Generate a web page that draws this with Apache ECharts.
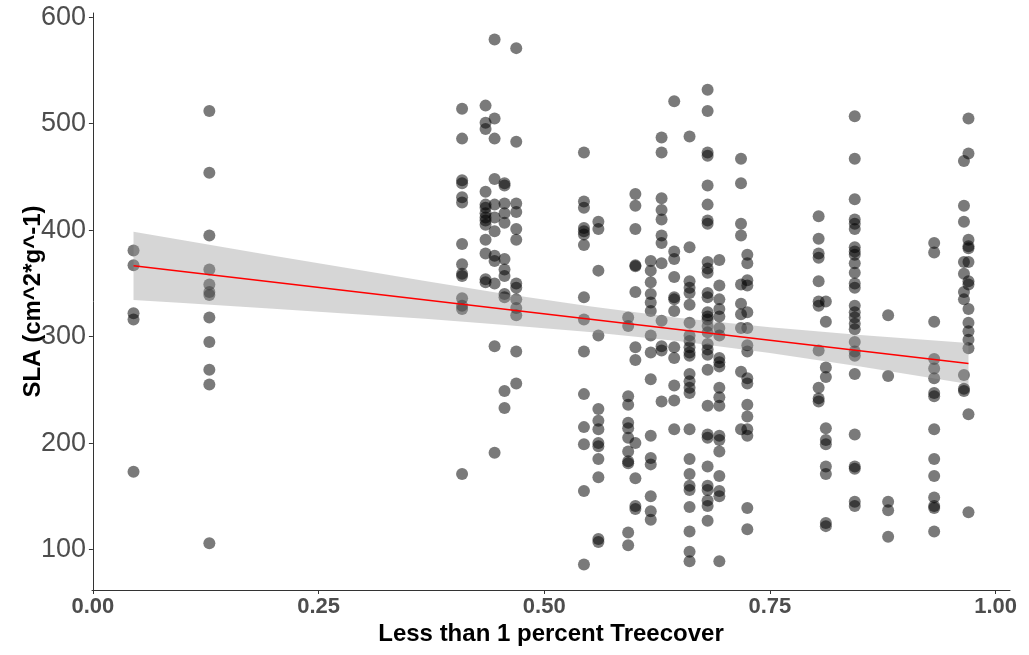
<!DOCTYPE html>
<html>
<head>
    <meta charset="utf-8">
    <title>SLA vs treecover</title>
    <script src="https://cdn.jsdelivr.net/npm/echarts@6/dist/echarts.min.js"></script>
</head>
<body style="margin:0">
<div id="main" style="width: 1029px;height:655px;"></div>
<script type="text/javascript">
    // x position of each site (share of area with < 1% tree cover)
    var siteX = [0.045, 0.129, 0.409, 0.435, 0.445, 0.456, 0.469, 0.544, 0.560, 0.593, 0.601, 0.618, 0.630,
        0.644, 0.661, 0.681, 0.694, 0.718, 0.725, 0.804, 0.812, 0.844, 0.881, 0.932, 0.965, 0.970];
    // SLA values measured at each site, same order as siteX
    var siteSLA = [
        [381, 367, 322, 316, 173],
        [512, 454, 395, 363, 349, 342, 339, 318, 295, 269, 255, 106],
        [514, 486, 447, 444, 431, 426, 387, 368, 359, 357, 336, 329, 326, 171],
        [517, 501, 495, 436, 424, 421, 416, 412, 409, 405, 391, 378, 354, 351],
        [579, 505, 486, 448, 424, 412, 399, 376, 371, 350, 291, 191],
        [444, 442, 425, 416, 407, 373, 363, 357, 340, 337, 249, 233],
        [571, 483, 425, 417, 401, 391, 350, 346, 335, 327, 320, 286, 256],
        [473, 427, 421, 402, 399, 396, 386, 337, 316, 286, 246, 215, 199, 155, 86],
        [408, 401, 362, 301, 232, 221, 213, 200, 197, 185, 168, 110, 107],
        [318, 310, 244, 236, 219, 214, 205, 192, 183, 181, 116, 104],
        [434, 423, 401, 367, 366, 342, 290, 278, 200, 167, 141, 138],
        [371, 362, 351, 340, 332, 324, 301, 285, 260, 207, 186, 180, 150, 136, 128],
        [487, 473, 430, 419, 410, 395, 388, 369, 315, 291, 287, 239],
        [521, 380, 373, 356, 337, 335, 324, 290, 280, 254, 240, 213],
        [488, 384, 352, 346, 341, 330, 313, 301, 296, 290, 285, 282, 265, 258, 252, 247, 213, 185, 171, 160, 156, 140, 117, 98, 89],
        [532, 512, 473, 470, 442, 424, 409, 406, 370, 364, 360, 341, 337, 323, 319, 316, 310, 304, 293, 288, 283, 269, 235, 208, 205, 178, 160, 156, 146, 141, 127],
        [372, 348, 335, 326, 319, 308, 301, 280, 276, 272, 252, 243, 235, 207, 203, 192, 169, 155, 150, 89],
        [467, 444, 406, 395, 349, 331, 321, 308, 267, 213],
        [377, 369, 353, 348, 323, 308, 292, 286, 261, 256, 236, 225, 213, 207, 139, 119],
        [413, 392, 378, 374, 352, 333, 329, 287, 252, 242, 239],
        [333, 314, 271, 262, 214, 203, 199, 178, 171, 125, 122],
        [507, 467, 429, 410, 406, 401, 384, 380, 377, 369, 360, 350, 346, 329, 323, 318, 312, 307, 295, 286, 282, 265, 208, 178, 176, 145, 141],
        [320, 263, 145, 137, 112],
        [388, 379, 314, 279, 270, 261, 247, 244, 213, 185, 169, 149, 141, 139, 117],
        [465, 423, 408, 370, 359, 342, 335, 264, 251, 249],
        [505, 472, 391, 385, 383, 370, 352, 349, 326, 313, 305, 297, 289, 227, 135]
    ];

    // fitted line and its confidence band
    var fitX = [0.045, 0.97];
    var fitY = [366.5, 274.8];
    var bandX = [0.045, 0.1, 0.2, 0.3, 0.368, 0.45, 0.55, 0.65, 0.75, 0.85, 0.97];
    var bandLow = [334.5, 331.6, 326.2, 320.6, 316.7, 311.4, 304.4, 295.6, 284.6, 271.9, 255.5];
    var bandHigh = [398.5, 390.5, 376.0, 361.8, 352.3, 341.0, 328.6, 317.6, 308.8, 301.5, 294.1];

    var xTicks = [0, 0.25, 0.5, 0.75, 1];
    var yTicks = [100, 200, 300, 400, 500, 600];

    var points = [];
    siteX.forEach(function (x, i) {
        siteSLA[i].forEach(function (v) {
            points.push([x, v]);
        });
    });
    var fitData = fitX.map(function (x, i) { return [x, fitY[i]]; });
    var bandData = bandX.map(function (x, i) { return [x, bandLow[i], bandHigh[i]]; });

    var font = "'Liberation Sans', Arial, sans-serif";
    var myChart = echarts.init(document.getElementById('main'));

    var option = {
        backgroundColor: '#ffffff',
        animation: false,
        grid: {left: 92, right: 19, top: 13, bottom: 65, outerBoundsMode: 'none'},
        xAxis: {
            type: 'value',
            min: -0.001,
            max: 1.016,
            name: 'Less than 1 percent Treecover',
            nameLocation: 'middle',
            nameGap: 32,
            nameMoveOverlap: false,
            nameTextStyle: {color: '#000', fontSize: 24, fontWeight: 'bold', fontFamily: font},
            splitLine: {show: false},
            axisLine: {lineStyle: {color: '#333', width: 1}},
            axisTick: {customValues: xTicks, length: 4, lineStyle: {color: '#333'}},
            axisLabel: {
                customValues: xTicks,
                margin: 6,
                color: '#4d4d4d',
                fontSize: 22,
                fontWeight: 'bold',
                fontFamily: font,
                formatter: function (v) { return v.toFixed(2); }
            }
        },
        yAxis: {
            type: 'value',
            min: 62,
            max: 604,
            name: 'SLA (cm^2*g^-1)',
            nameLocation: 'middle',
            nameGap: 47,
            nameMoveOverlap: false,
            nameTextStyle: {color: '#000', fontSize: 24, fontWeight: 'bold', fontFamily: font},
            splitLine: {show: false},
            axisLine: {show: true, lineStyle: {color: '#333', width: 1}},
            axisTick: {show: true, customValues: yTicks, length: 4, lineStyle: {color: '#333'}},
            axisLabel: {
                customValues: yTicks,
                margin: 6,
                color: '#4d4d4d',
                fontSize: 27,
                fontFamily: font
            }
        },
        series: [{
            type: 'scatter',
            data: points,
            symbolSize: 12,
            itemStyle: {color: 'rgba(0,0,0,0.65)'},
            z: 2
        }, {
            type: 'custom',
            data: bandData,
            encode: {x: 0, y: [1, 2]},
            silent: true,
            z: 3,
            renderItem: function (params, api) {
                if (params.dataIndex !== 0) return null;
                var pts = [];
                for (var i = 0; i < bandX.length; i++) pts.push(api.coord([bandX[i], bandHigh[i]]));
                for (var j = bandX.length - 1; j >= 0; j--) pts.push(api.coord([bandX[j], bandLow[j]]));
                return {
                    type: 'polygon',
                    shape: {points: pts},
                    style: {fill: 'rgba(153,153,153,0.4)', stroke: null}
                };
            }
        }, {
            type: 'line',
            data: fitData,
            showSymbol: false,
            lineStyle: {color: '#ff0000', width: 1.5},
            silent: true,
            z: 4
        }]
    };

    myChart.setOption(option);
</script>
</body>
</html>
